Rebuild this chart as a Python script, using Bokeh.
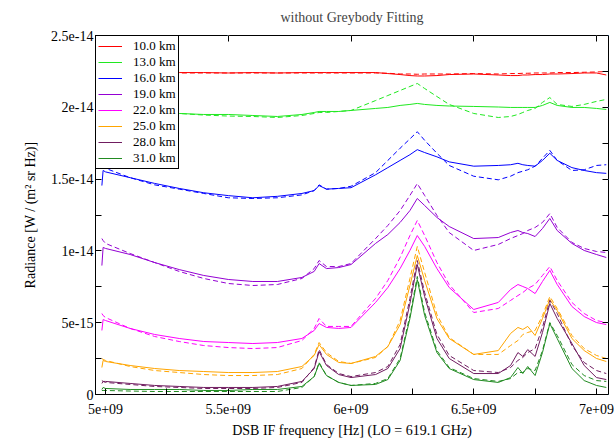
from bokeh.plotting import figure
from bokeh.models import FixedTicker, LinearAxis, Legend, LegendItem
from bokeh.embed import file_html
from bokeh.resources import INLINE

# x in GHz (DSB IF frequency), radiance in units of 1e-15 W/(m^2 sr Hz)
freq_ghz = [4.985, 4.99, 5.0, 5.1, 5.2, 5.3, 5.4, 5.5, 5.6, 5.7, 5.8, 5.85, 5.87, 5.9, 5.95,
            6.0, 6.1, 6.15, 6.2, 6.24, 6.27, 6.3, 6.35, 6.4, 6.5, 6.6, 6.65, 6.68, 6.7, 6.72,
            6.75, 6.78, 6.81, 6.84, 6.9, 6.95, 7.0, 7.04]

labels = ["10.0 km", "13.0 km", "16.0 km", "19.0 km", "22.0 km", "25.0 km", "28.0 km", "31.0 km"]
colors = ["#ff0000", "#20e820", "#0000ff", "#9400d3", "#ff00ff", "#ffa500", "#701d60", "#228b22"]

r10_solid = [22.42, 22.42, 22.42, 22.42, 22.42, 22.42, 22.42, 22.39, 22.42, 22.39, 22.42, 22.42, 22.42, 22.42, 22.42,
             22.42, 22.42, 22.35, 22.28, 22.21, 22.18, 22.18, 22.21, 22.28, 22.32, 22.25, 22.21, 22.21, 22.25, 22.25,
             22.28, 22.28, 22.32, 22.32, 22.35, 22.39, 22.39, 22.25]
r10_dashed = [22.39, 22.39, 22.39, 22.39, 22.39, 22.39, 22.39, 22.39, 22.39, 22.39, 22.39, 22.39, 22.39, 22.39, 22.39,
              22.39, 22.39, 22.37, 22.32, 22.32, 22.30, 22.32, 22.32, 22.32, 22.35, 22.32, 22.35, 22.35, 22.37, 22.37,
              22.39, 22.39, 22.39, 22.42, 22.42, 22.44, 22.46, 22.49]
r13_solid = [19.64, 19.71, 19.71, 19.64, 19.64, 19.57, 19.50, 19.50, 19.43, 19.36, 19.50, 19.64, 19.71, 19.71, 19.71,
             19.78, 19.92, 19.99, 20.13, 20.20, 20.27, 20.20, 20.13, 20.09, 20.06, 20.02, 19.99, 19.99, 19.99, 19.99,
             19.99, 20.13, 20.34, 20.13, 19.99, 19.99, 19.92, 19.85]
r13_dashed = [19.64, 19.64, 19.64, 19.64, 19.64, 19.57, 19.46, 19.39, 19.36, 19.29, 19.43, 19.57, 19.64, 19.64, 19.71,
              19.78, 20.47, 20.82, 21.17, 21.45, 21.66, 21.31, 20.75, 20.20, 19.57, 19.29, 19.36, 19.50, 19.64, 19.78,
              19.92, 20.34, 20.68, 20.20, 20.06, 20.20, 20.41, 20.55]
r16_solid = [14.55, 15.60, 15.50, 15.10, 14.70, 14.35, 14.05, 13.85, 13.70, 13.80, 14.00, 14.20, 14.55, 14.30, 14.35,
             14.40, 15.30, 15.80, 16.30, 16.70, 17.05, 16.85, 16.55, 16.20, 15.90, 15.95, 16.00, 16.10, 16.00, 15.95,
             15.90, 16.30, 16.80, 16.30, 15.80, 15.60, 15.45, 15.40]
r16_dashed = [15.95, 15.85, 15.75, 15.10, 14.60, 14.30, 14.00, 13.70, 13.65, 13.70, 13.90, 14.20, 14.60, 14.30, 14.35,
              14.50, 15.45, 16.30, 17.15, 17.80, 18.30, 17.70, 16.80, 15.95, 15.20, 14.95, 15.20, 15.45, 15.55, 15.65,
              15.90, 16.45, 17.00, 16.30, 15.60, 15.65, 15.95, 16.00]
r19_solid = [8.98, 10.24, 10.17, 9.75, 9.19, 8.70, 8.29, 8.01, 7.87, 7.87, 8.15, 8.57, 9.12, 8.77, 8.84,
             9.05, 10.52, 11.14, 11.98, 12.81, 13.65, 13.16, 12.33, 11.70, 10.86, 10.93, 11.28, 11.42, 11.28, 11.21,
             11.00, 11.56, 12.26, 11.42, 10.52, 10.03, 9.75, 9.54]
r19_dashed = [10.86, 10.72, 10.52, 9.82, 9.19, 8.57, 8.08, 7.73, 7.59, 7.66, 8.08, 8.77, 9.33, 8.91, 8.91,
              9.12, 10.86, 11.77, 12.81, 13.86, 14.69, 13.86, 12.47, 11.28, 10.03, 10.45, 10.86, 11.07, 11.21, 11.42,
              11.63, 11.98, 12.60, 11.63, 10.59, 10.17, 9.96, 9.89]
r22_solid = [4.46, 5.22, 5.15, 4.60, 4.18, 3.90, 3.69, 3.62, 3.55, 3.62, 3.90, 4.46, 4.94, 4.67, 4.60,
             4.67, 6.41, 7.45, 8.77, 10.03, 11.07, 10.31, 8.77, 7.45, 5.92, 6.41, 7.31, 7.66, 7.52, 7.38,
             7.03, 7.87, 8.64, 7.66, 6.13, 5.43, 5.01, 4.87]
r22_dashed = [5.64, 5.50, 5.36, 4.60, 4.04, 3.69, 3.41, 3.27, 3.20, 3.27, 3.76, 4.60, 5.29, 4.74, 4.74,
              4.74, 6.69, 7.94, 9.54, 11.07, 12.12, 11.07, 9.19, 7.66, 5.71, 5.99, 6.55, 6.89, 7.10, 7.38,
              7.66, 8.29, 8.91, 7.94, 6.41, 5.64, 5.15, 5.01]
r25_solid = [1.88, 2.37, 2.30, 2.02, 1.81, 1.67, 1.60, 1.53, 1.53, 1.60, 1.95, 2.72, 3.48, 2.79, 2.23,
             2.16, 2.65, 3.34, 4.87, 7.59, 9.68, 7.94, 5.29, 3.90, 2.79, 3.06, 4.25, 4.67, 4.53, 4.74,
             4.11, 5.29, 6.62, 5.85, 3.90, 3.06, 2.51, 2.30]
r25_dashed = [2.51, 2.44, 2.37, 1.95, 1.67, 1.53, 1.39, 1.32, 1.32, 1.39, 1.81, 2.79, 3.62, 2.92, 2.30,
              2.16, 2.58, 3.34, 5.15, 8.08, 10.31, 8.50, 5.57, 3.97, 2.79, 2.79, 3.41, 3.76, 4.18, 4.32,
              4.46, 5.50, 6.82, 5.99, 4.11, 3.20, 2.72, 2.51]
r28_solid = [0.77, 0.91, 0.91, 0.77, 0.63, 0.56, 0.49, 0.49, 0.49, 0.56, 0.91, 1.81, 2.99, 2.02, 1.39,
             1.18, 1.39, 1.81, 3.20, 6.34, 9.05, 6.82, 3.90, 2.51, 1.46, 1.46, 2.02, 2.92, 2.65, 3.13,
             2.65, 4.32, 6.34, 5.29, 3.55, 2.02, 1.18, 1.04]
r28_dashed = [0.97, 0.91, 0.84, 0.70, 0.56, 0.49, 0.42, 0.42, 0.42, 0.49, 0.84, 1.88, 3.13, 2.09, 1.46,
              1.25, 1.53, 1.95, 3.48, 6.69, 9.33, 7.10, 4.18, 2.72, 1.67, 1.53, 1.88, 2.37, 2.58, 2.92,
              3.20, 4.67, 6.55, 5.64, 3.41, 2.23, 1.67, 1.46]
r31_solid = [0.35, 0.49, 0.42, 0.35, 0.35, 0.35, 0.28, 0.28, 0.35, 0.35, 0.56, 1.25, 2.16, 1.32, 0.84,
             0.63, 0.70, 1.04, 2.37, 5.29, 8.01, 5.50, 2.92, 1.81, 1.04, 0.84, 1.18, 1.88, 1.46, 1.95,
             1.32, 2.92, 4.94, 3.90, 1.81, 0.97, 0.63, 0.49]
r31_dashed = [0.28, 0.28, 0.28, 0.24, 0.21, 0.21, 0.21, 0.21, 0.21, 0.21, 0.49, 1.25, 2.23, 1.32, 0.84,
              0.63, 0.77, 1.11, 2.51, 5.50, 8.22, 5.71, 3.06, 1.88, 1.11, 0.91, 1.11, 1.53, 1.53, 1.81,
              1.67, 3.06, 5.01, 4.11, 2.09, 1.32, 0.97, 0.91]

solid_series = [r10_solid, r13_solid, r16_solid, r19_solid, r22_solid, r25_solid, r28_solid, r31_solid]
dashed_series = [r10_dashed, r13_dashed, r16_dashed, r19_dashed, r22_dashed, r25_dashed, r28_dashed, r31_dashed]

x_ticks = [5.0, 5.5, 6.0, 6.5, 7.0]
x_tick_labels = ["5e+09", "5.5e+09", "6e+09", "6.5e+09", "7e+09"]
x_minor = [5.25, 5.75, 6.25, 6.75]
y_ticks = [0, 5, 10, 15, 20, 25]
y_tick_labels = ["0", "5e-15", "1e-14", "1.5e-14", "2e-14", "2.5e-14"]
y_minor = [2.5, 7.5, 12.5, 17.5, 22.5]

FONT = "Liberation Serif"

p = figure(width=614, height=441, x_range=(4.959, 7.049), y_range=(0, 25),
           output_backend="svg", toolbar_location=None,
           title="without Greybody Fitting",
           min_border_left=95, min_border_right=6, min_border_top=35, min_border_bottom=47)
p.title.align = "center"
p.title.text_font = FONT
p.title.text_font_size = "14px"
p.title.text_font_style = "normal"
p.title.standoff = 14

p.xgrid.visible = False
p.ygrid.visible = False
p.outline_line_color = "black"
p.outline_line_alpha = 1
p.background_fill_color = "white"
p.border_fill_color = "white"

p.xaxis.ticker = FixedTicker(ticks=x_ticks, minor_ticks=x_minor)
p.xaxis.major_label_overrides = dict(zip(x_ticks, x_tick_labels))
p.yaxis.ticker = FixedTicker(ticks=y_ticks, minor_ticks=y_minor)
p.yaxis.major_label_overrides = dict(zip(y_ticks, y_tick_labels))
p.xaxis.axis_label = "DSB IF frequency [Hz] (LO = 619.1 GHz)"
p.yaxis.axis_label = "Radiance [W / (m\u00b2 sr Hz)]"

for ax in [p.xaxis[0], p.yaxis[0]]:
    ax.major_label_text_font = FONT
    ax.major_label_text_font_size = "14px"
    ax.major_label_text_color = "black"
    ax.axis_label_text_font = FONT
    ax.axis_label_text_font_size = "14px"
    ax.axis_label_text_font_style = "normal"
    ax.axis_label_text_color = "black"
    ax.axis_line_color = "black"
    ax.major_tick_line_color = "black"
    ax.minor_tick_line_color = "black"
    ax.major_tick_in = 6
    ax.major_tick_out = 0
    ax.minor_tick_in = 6
    ax.minor_tick_out = 0
p.xaxis.major_label_standoff = 9
p.xaxis.axis_label_standoff = 6
p.yaxis.major_label_standoff = 2
p.yaxis.axis_label_standoff = 10

# mirrored tick axes (right and top), ticks only
right_ax = LinearAxis(ticker=FixedTicker(ticks=y_ticks, minor_ticks=y_minor))
top_ax = LinearAxis(ticker=FixedTicker(ticks=x_ticks))
for ax in [right_ax, top_ax]:
    ax.major_label_text_font_size = "1px"
    ax.major_label_text_color = "white"
    ax.major_label_standoff = 0
    ax.axis_line_color = "black"
    ax.major_tick_line_color = "black"
    ax.minor_tick_line_color = "black"
    ax.major_tick_in = 6
    ax.major_tick_out = 0
    ax.minor_tick_in = 6
    ax.minor_tick_out = 0
p.add_layout(right_ax, "right")
p.add_layout(top_ax, "above")

items = []
for lab, col, ys, yd in zip(labels, colors, solid_series, dashed_series):
    p.line(freq_ghz, yd, line_color=col, line_width=1, line_dash="5 3")
    r = p.line(freq_ghz, ys, line_color=col, line_width=1)
    items.append(LegendItem(label=lab, renderers=[r]))

legend = Legend(items=items, location="top_left")
legend.margin = 0
legend.padding = 2
legend.spacing = 0
legend.label_height = 14
legend.glyph_height = 14
legend.glyph_width = 24
legend.label_standoff = 11
legend.border_line_color = "black"
legend.border_line_width = 1
legend.border_line_alpha = 1.0
legend.background_fill_color = "white"
legend.background_fill_alpha = 1.0
legend.label_text_font = FONT
legend.label_text_font_size = "13px"
legend.label_text_color = "black"
p.add_layout(legend)

open("out.html", "w").write(file_html(p, INLINE))
